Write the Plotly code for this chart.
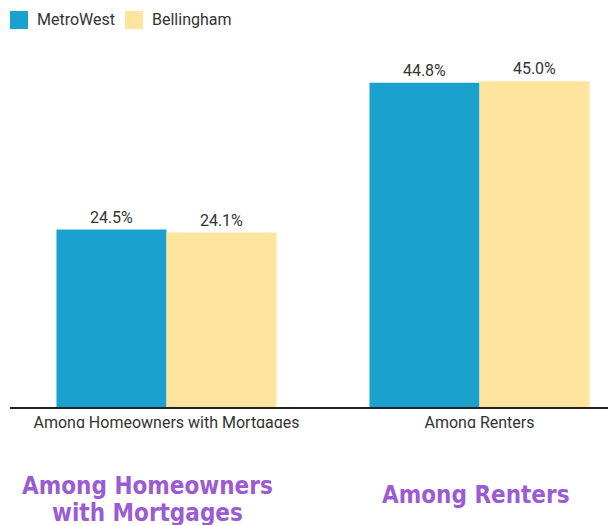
import plotly.graph_objects as go

categories = ["Among Homeowners with Mortgages", "Among Renters"]
series_names = ["MetroWest", "Bellingham"]
metrowest = [24.5, 44.8]
bellingham = [24.1, 45.0]
big_labels = [["Among Homeowners", "with Mortgages"], ["Among Renters"]]

colors = ["#1aa1ce", "#fee49c"]
purple = "#9a5bd3"

OFF = 8  # page body margin
W, H = 616 - OFF, 525 - OFF
L, T, B = 2, 52, 118
pw = W - L
ph = H - T - B


# helpers take positions measured on the page, return paper coords
def px_x(x):
    return (x - OFF - L) / pw


def px_y(y):
    return (H - B - (y - OFF)) / ph


fig = go.Figure()
for name, vals, col in zip(series_names, [metrowest, bellingham], colors):
    fig.add_trace(go.Bar(
        x=categories, y=vals, name=name, marker_color=col, marker_line_width=0,
        text=[f"{v:.1f}%" for v in vals], textposition="outside",
        textfont=dict(size=16, color="#333333", family="Roboto"),
        cliponaxis=False, showlegend=False,
    ))

# legend drawn by hand (bigger swatches than plotly's bar legend)
leg_x = [10, 125]
for i, (name, col) in enumerate(zip(series_names, colors)):
    fig.add_shape(type="rect", xref="paper", yref="paper",
                  x0=px_x(leg_x[i]), x1=px_x(leg_x[i] + 18),
                  y0=px_y(29), y1=px_y(11),
                  fillcolor=col, line_width=0)
    fig.add_annotation(text=name, xref="paper", yref="paper",
                       x=px_x(leg_x[i] + 25), y=px_y(20),
                       xanchor="left", yanchor="middle", showarrow=False,
                       font=dict(size=16, color="#333333", family="Roboto"))

# cut off the bottom of the tick labels like the original
fig.add_shape(type="rect", xref="paper", yref="paper",
              x0=-0.05, x1=1.05, y0=px_y(465), y1=px_y(428),
              fillcolor="white", line_width=0, layer="above")

big_x = [147, 476]
big_y = [[486, 513], [495]]
for lines, x, ys in zip(big_labels, big_x, big_y):
    for txt, y in zip(lines, ys):
        fig.add_annotation(text=f"<b>{txt}</b>", xref="paper", yref="paper",
                           x=px_x(x), y=px_y(y), xanchor="center", yanchor="middle",
                           showarrow=False,
                           font=dict(size=24, color=purple,
                                     family="DejaVu Sans Condensed, Noto Sans"))

fig.update_layout(
    width=W, height=H,
    margin=dict(l=L, r=0, t=T, b=B, pad=0),
    plot_bgcolor="white", paper_bgcolor="white",
    barmode="group", bargap=0.297, bargroupgap=0,
    font=dict(family="Roboto", color="#333333"),
    xaxis=dict(range=[-0.5, -0.5 + pw / 313], showline=True, linecolor="#222222",
               linewidth=2, ticks="", showgrid=False,
               tickfont=dict(size=16, color="#333333")),
    yaxis=dict(range=[0, ph / 7.24], showgrid=False, showticklabels=False,
               zeroline=False, showline=False),
)

fig.write_html("out.html")
